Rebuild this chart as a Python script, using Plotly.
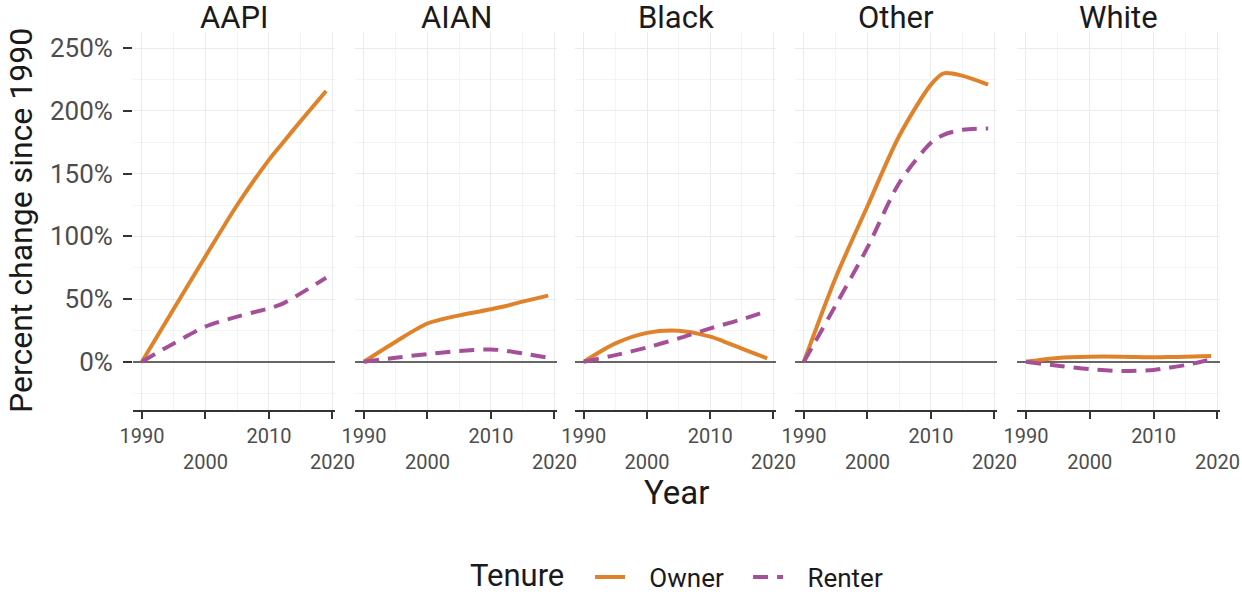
import plotly.graph_objects as go

groups = ["AAPI", "AIAN", "Black", "Other", "White"]
years = [1990, 1995, 2000, 2005, 2010, 2012, 2015, 2019]

owner = {
    "AAPI":  [0, 42, 84, 125, 161, 173.5, 192, 216],
    "AIAN":  [0, 16, 30.5, 37, 41.8, 44, 47.9, 52.7],
    "Black": [0, 14.6, 23, 24.7, 20, 16.5, 10.5, 2.7],
    "Other": [0, 67, 124, 180, 221, 230, 228, 221],
    "White": [0, 3, 4, 4, 3.5, 3.7, 4, 4.5],
}
renter = {
    "AAPI":  [0, 14.6, 28, 36, 42.6, 46, 54.5, 67],
    "AIAN":  [0, 3.2, 6.1, 8.5, 9.8, 9, 6.6, 3.2],
    "Black": [0, 5.3, 11.4, 18.6, 26.6, 29.5, 33.8, 40.4],
    "Other": [0, 45, 91, 142.6, 174.6, 181, 185, 186],
    "White": [0, -3.2, -5.9, -7.4, -6.6, -5, -2.7, 1.9],
}

x_ticks = [1990, 2000, 2010, 2020]
x_ticktext = ["1990", "<br>2000", "2010", "<br>2020"]
x_minor = [1995, 2005, 2015]
y_ticks = [0, 50, 100, 150, 200, 250]
y_ticktext = ["0%", "50%", "100%", "150%", "200%", "250%"]
y_minor = [-25, 25, 75, 125, 175, 225]

W, H = 1242, 594
panels_px = [(133, 335), (355, 557), (575, 776), (795, 997), (1017, 1220)]
y_dom = [1 - 410 / H, 1 - 32 / H]

ORANGE = "#e0822a"
PURPLE = "#a64f99"
FONT = "Roboto"
NB = "\u00a0"

fig = go.Figure()
annotations = []
for i, g in enumerate(groups):
    idx = "" if i == 0 else str(i + 1)
    xa = "x" + idx
    ya = "y" + idx
    fig.add_trace(go.Scatter(
        x=years, y=owner[g], mode="lines", name=NB * 3 + "Owner" + NB * 3, legendgroup="Owner",
        showlegend=(i == 0), line=dict(color=ORANGE, width=4, shape="spline", smoothing=0.8),
        xaxis=xa, yaxis=ya, hoverinfo="skip"))
    fig.add_trace(go.Scatter(
        x=years, y=renter[g], mode="lines", name=NB * 3 + "Renter", legendgroup="Renter",
        showlegend=(i == 0), line=dict(color=PURPLE, width=4, dash="15px,9px", shape="spline", smoothing=0.8),
        xaxis=xa, yaxis=ya, hoverinfo="skip"))
    x0, x1 = panels_px[i]
    dom = [x0 / W, x1 / W]
    fig.layout["xaxis" + idx] = dict(
        domain=dom, anchor=ya, range=[1988.6, 2020.4], automargin=False,
        tickmode="array", tickvals=x_ticks, ticktext=x_ticktext,
        showline=True, linecolor="#333333", linewidth=2,
        ticks="outside", ticklen=7, tickwidth=2, tickcolor="#333333",
        tickfont=dict(family=FONT, size=20, color="#4d4d4d"),
        showgrid=True, gridcolor="#ebebeb", gridwidth=1,
        minor=dict(tickvals=x_minor, showgrid=True, gridcolor="#f4f4f4", gridwidth=1, ticks=""),
        zeroline=False, fixedrange=True,
    )
    fig.layout["yaxis" + idx] = dict(
        domain=y_dom, anchor=xa, range=[-38.5, 263], automargin=False,
        tickmode="array", tickvals=y_ticks, ticktext=y_ticktext,
        showticklabels=(i == 0), ticklabelstandoff=5,
        ticks="outside" if i == 0 else "", ticklen=9, tickwidth=2, tickcolor="#333333",
        tickfont=dict(family=FONT, size=26, color="#4d4d4d"),
        showgrid=True, gridcolor="#ebebeb", gridwidth=1,
        minor=dict(tickvals=y_minor, showgrid=True, gridcolor="#f4f4f4", gridwidth=1, ticks=""),
        zeroline=True, zerolinecolor="#666666", zerolinewidth=1.6,
        showline=False, fixedrange=True,
    )
    annotations.append(dict(
        text=g, x=(x0 + x1) / 2 / W, y=1 - 17 / H, xref="paper", yref="paper",
        xanchor="center", yanchor="middle", showarrow=False,
        font=dict(family=FONT, size=31, color="#1a1a1a")))

annotations.append(dict(
    text="Percent change since 1990", x=21 / W, y=1 - 221 / H, xref="paper", yref="paper",
    xanchor="center", yanchor="middle", textangle=-90, showarrow=False,
    font=dict(family=FONT, size=32, color="#1a1a1a")))
annotations.append(dict(
    text="Year", x=676 / W, y=1 - 492 / H, xref="paper", yref="paper",
    xanchor="center", yanchor="middle", showarrow=False,
    font=dict(family=FONT, size=33, color="#1a1a1a")))
annotations.append(dict(
    text="Tenure", x=517 / W, y=1 - 575.5 / H, xref="paper", yref="paper",
    xanchor="center", yanchor="middle", showarrow=False,
    font=dict(family=FONT, size=31, color="#1a1a1a")))

fig.update_layout(
    template="none",
    width=W, height=H,
    margin=dict(l=0, r=0, t=0, b=0, autoexpand=False),
    paper_bgcolor="white", plot_bgcolor="white",
    annotations=annotations,
    showlegend=True,
    hovermode=False,
    legend=dict(
        orientation="h", x=590 / W, y=1 - 577 / H, xanchor="left", yanchor="middle",
        font=dict(family=FONT, size=26, color="#1a1a1a"),
        itemwidth=30, bgcolor="rgba(0,0,0,0)", borderwidth=0,
    ),
)

fig.write_html(
    "out.html",
    config={"displayModeBar": False},
    post_script="document.body.style.margin='0';document.body.style.overflow='hidden';",
)
